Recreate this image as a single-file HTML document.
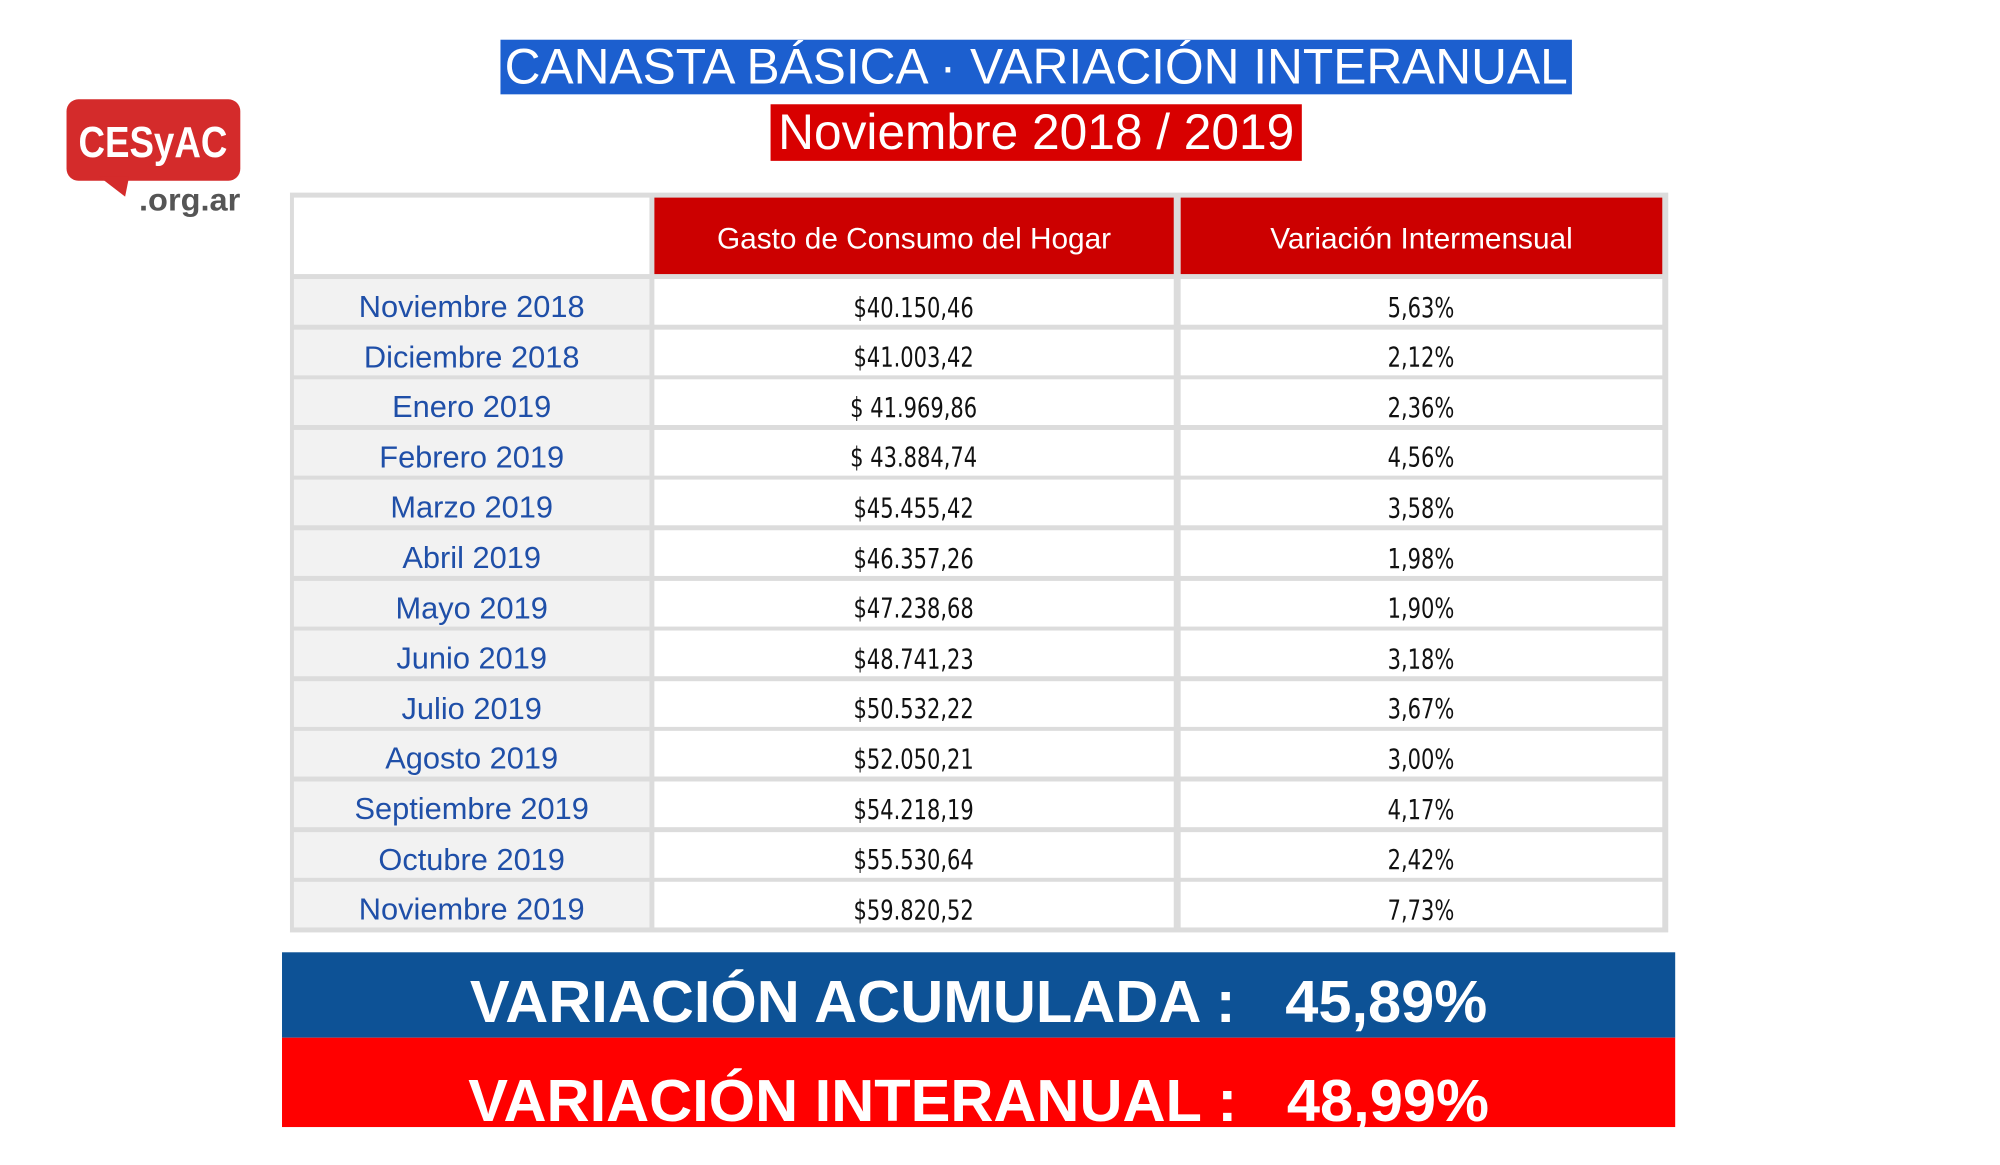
<!DOCTYPE html>
<html><head><meta charset="utf-8"><style>
*{margin:0;padding:0;box-sizing:border-box}
body{width:2000px;height:1125px;background:#fff;position:relative;overflow:hidden;font-family:"Liberation Sans",sans-serif}
#w{position:absolute;left:0;top:0;width:2000px;height:1135px;transform:scale(0.993);transform-origin:0 0}
.abs{position:absolute}
.t1{left:504px;top:40px;width:1079px;height:55px;background:#1c5fcf;color:#fff;font-size:50px;line-height:55px;text-align:center;white-space:nowrap}
.t2{left:776px;top:105px;width:535px;height:57px;background:#d80000;color:#fff;font-size:50px;line-height:57px;text-align:center;white-space:nowrap}
.tbl{left:292px;top:194px;width:1388px;height:745px;background:#dcdcdc}
.c{position:absolute;display:flex;align-items:center;justify-content:center;white-space:nowrap}
.h{background:#cc0000;color:#fff;font-size:30px;padding-top:6px}
.l{background:#f2f2f2;color:#1f4fa8;font-size:31px;padding-top:10px}
.v{background:#fff;color:#111;font-family:"DejaVu Sans Condensed","Liberation Sans Narrow","Liberation Sans",sans-serif;font-size:28px;padding-top:10px}
.v span{display:inline-block;transform:scaleX(0.84)}
.band{left:284px;width:1403px;color:#fff;font-weight:bold;font-size:60px;white-space:pre;text-align:center}
</style></head><body><div id="w">
<div class="abs t1">CANASTA BÁSICA · VARIACIÓN INTERANUAL</div>
<div class="abs t2">Noviembre 2018 / 2019</div>
<svg class="abs" style="left:60px;top:95px" width="190" height="125" viewBox="60 95 190 125">
<rect x="67" y="100" width="175" height="82" rx="12" fill="#d42b2b"/>
<polygon points="100,178 130,178 126,198" fill="#d42b2b"/>
<text x="154" y="158" fill="#fff" font-family="Liberation Sans" font-weight="bold" font-size="44" text-anchor="middle" textLength="150" lengthAdjust="spacingAndGlyphs">CESyAC</text>
<text x="242" y="212" fill="#555" font-family="Liberation Sans" font-weight="bold" font-size="32" text-anchor="end" textLength="102" lengthAdjust="spacingAndGlyphs">.org.ar</text>
</svg>
<div class="abs tbl">
<div class="c" style="left:4px;top:5px;width:358px;height:77px;background:#fff"></div>
<div class="c h" style="left:367px;top:5px;width:523px;height:77px">Gasto de Consumo del Hogar</div>
<div class="c h" style="left:897px;top:5px;width:485px;height:77px">Variación Intermensual</div>
</div>
<div class="abs band" style="top:959px;height:86px;background:#0d5296;line-height:100px">VARIACIÓN ACUMULADA :   45,89%</div>
<div class="abs band" style="top:1045px;height:90px;background:#ff0000;line-height:128px">VARIACIÓN INTERANUAL :   48,99%</div>
</div>
<script>
var d=[["Noviembre 2018","$40.150,46","5,63%"],["Diciembre 2018","$41.003,42","2,12%"],["Enero 2019","$ 41.969,86","2,36%"],["Febrero 2019","$ 43.884,74","4,56%"],["Marzo 2019","$45.455,42","3,58%"],["Abril 2019","$46.357,26","1,98%"],["Mayo 2019","$47.238,68","1,90%"],["Junio 2019","$48.741,23","3,18%"],["Julio 2019","$50.532,22","3,67%"],["Agosto 2019","$52.050,21","3,00%"],["Septiembre 2019","$54.218,19","4,17%"],["Octubre 2019","$55.530,64","2,42%"],["Noviembre 2019","$59.820,52","7,73%"]];
var t=document.querySelector('.tbl'),h='';
for(var i=0;i<13;i++){var y=87+i*50.6,hh=46;
h+='<div class="c l" style="left:4px;top:'+y+'px;width:358px;height:'+hh+'px">'+d[i][0]+'</div>';
h+='<div class="c v" style="left:367px;top:'+y+'px;width:523px;height:'+hh+'px"><span>'+d[i][1]+'</span></div>';
h+='<div class="c v" style="left:897px;top:'+y+'px;width:485px;height:'+hh+'px"><span>'+d[i][2]+'</span></div>';}
t.innerHTML+=h;
</script>
</body></html>
